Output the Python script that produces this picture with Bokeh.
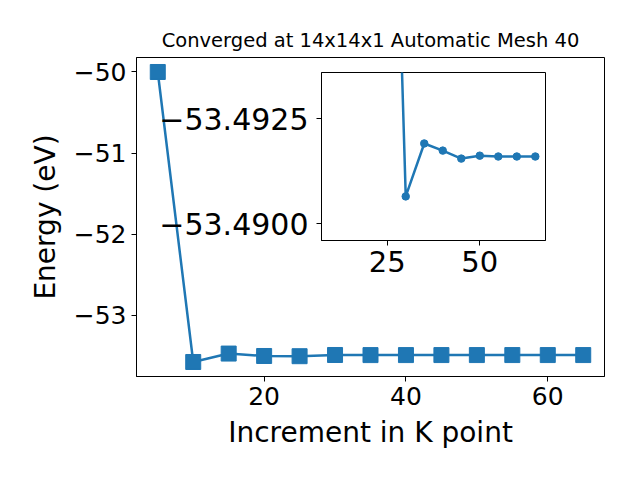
from bokeh.plotting import figure
from bokeh.models import Range1d, FixedTicker
from bokeh.layouts import column
from bokeh.embed import file_html
from bokeh.resources import INLINE

# ---- data ----
k_points = [5, 10, 15, 20, 25, 30, 35, 40, 45, 50, 55, 60, 65]
energy = [-50.0, -53.577, -53.473, -53.503, -53.5054, -53.49065, -53.49191,
          -53.49174, -53.49155, -53.49162, -53.4916, -53.4916, -53.4916]
inset_first = 4  # inset shows the points from k = 25 onward

main_xticks = [20, 40, 60]
main_yticks = [-53, -52, -51, -50]
main_ytick_labels = ["−53", "−52", "−51", "−50"]
inset_xticks = [25, 50]
inset_yticks = [-53.4925, -53.49]
inset_ytick_labels = ["−53.4925", "−53.4900"]

title_text = "Converged at 14x14x1 Automatic Mesh 40"
x_label = "Increment in K point"
y_label = "Energy (eV)"

BLUE = "#1f77b4"
FONT = "DejaVu Sans"


def style_axes(fig, tick_size, label_size=None):
    for ax in (fig.xaxis, fig.yaxis):
        ax.major_label_text_font = FONT
        ax.major_label_text_font_size = tick_size
        ax.major_label_text_color = "black"
        ax.axis_label_text_font = FONT
        ax.axis_label_text_font_style = "normal"
        ax.axis_label_text_color = "black"
        if label_size:
            ax.axis_label_text_font_size = label_size
        ax.major_tick_in = 0
        ax.major_tick_out = 5
        ax.major_tick_line_color = "black"
        ax.minor_tick_line_color = None
        ax.axis_line_color = "black"
        ax.major_label_standoff = 5
    fig.xgrid.visible = False
    fig.ygrid.visible = False
    fig.outline_line_color = "black"
    fig.outline_line_alpha = 1.0
    fig.outline_line_width = 1


# ---- main figure ----
p = figure(width=640, height=480,
           x_range=Range1d(2, 68), y_range=Range1d(-53.7559, -49.8212),
           output_backend="svg", toolbar_location=None,
           min_border_left=136, min_border_right=36,
           min_border_top=57, min_border_bottom=104)
p.frame_align = False
p.title.text = title_text
p.title.align = "center"
p.title.text_font = FONT
p.title.text_font_size = "19.5px"
p.title.text_font_style = "normal"
p.title.text_color = "black"
p.title.standoff = 11

style_axes(p, "25px", "28px")
p.xaxis.axis_label = x_label
p.yaxis.axis_label = y_label
p.xaxis.axis_label_standoff = 8
p.yaxis.axis_label_standoff = 9
p.xaxis.ticker = FixedTicker(ticks=main_xticks)
p.yaxis.ticker = FixedTicker(ticks=main_yticks)
p.yaxis.major_label_overrides = dict(zip(main_yticks, main_ytick_labels))

p.line(k_points, energy, line_color=BLUE, line_width=2.5)
p.scatter(k_points, energy, marker="square", size=15,
          fill_color=BLUE, line_color=BLUE)

# ---- inset ----
q = figure(width=399, height=218,
           x_range=Range1d(7.25, 67.75), y_range=Range1d(-53.4896, -53.4936),
           output_backend="svg", toolbar_location=None,
           min_border_left=170, min_border_right=5,
           min_border_top=5, min_border_bottom=45)
q.frame_align = False
q.border_fill_alpha = 0
q.background_fill_color = "white"
style_axes(q, "29px")
q.yaxis.major_label_text_font_size = "30px"
q.yaxis.major_label_standoff = 8
q.xaxis.ticker = FixedTicker(ticks=inset_xticks)
q.yaxis.ticker = FixedTicker(ticks=inset_yticks)
q.yaxis.major_label_overrides = dict(zip(inset_yticks, inset_ytick_labels))

q.line(k_points[inset_first:], energy[inset_first:], line_color=BLUE, line_width=2.5)
q.scatter(k_points[inset_first:], energy[inset_first:], marker="circle", size=7.5,
          fill_color=BLUE, line_color=BLUE)

q.margin = (-413, 0, 0, 151)

layout = column(p, q, spacing=0)
layout.margin = 0
p.margin = 0

open("out.html", "w").write(file_html(layout, INLINE))
